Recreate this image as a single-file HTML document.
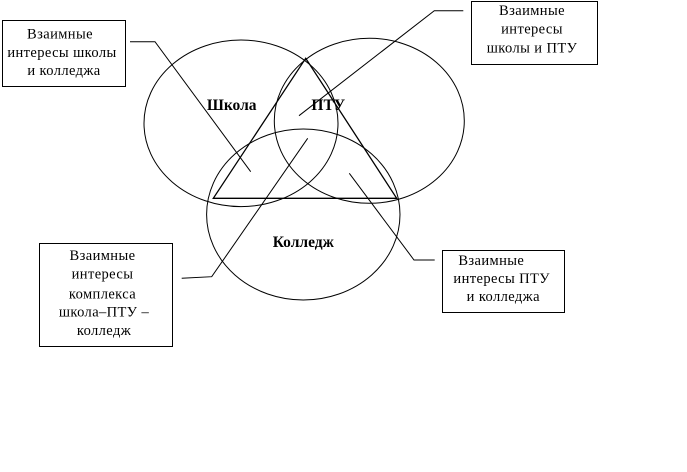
<!DOCTYPE html>
<html><head><meta charset="utf-8"><style>
html,body{margin:0;padding:0;background:#fff;}
svg{display:block;}
text{font-family:"Liberation Serif","DejaVu Serif",serif;font-size:14.5px;fill:#000;text-anchor:middle;letter-spacing:0.4px;}
.b{font-weight:bold;letter-spacing:0;font-size:15.5px;}
</style></head><body>
<svg width="687" height="472" viewBox="0 0 687 472" xmlns="http://www.w3.org/2000/svg">
<g fill="none" stroke="#000" stroke-width="1">
<ellipse cx="241" cy="123.3" rx="97" ry="83.3"/>
<ellipse cx="369.3" cy="120.8" rx="95" ry="82.5"/>
<ellipse cx="303.3" cy="214.5" rx="96.7" ry="85.5"/>
<polygon points="305.7,58.3 213.3,198.3 396.7,198.3" stroke-width="1.3"/>
<polyline points="130,41.7 155,41.7 250.7,171.7"/>
<polyline points="463.3,10.7 434.3,10.7 299,115.7"/>
<polyline points="181.7,278.3 211.7,276.7 307.7,138.3"/>
<polyline points="434.7,260 414,260 349.3,173.3"/>
<rect x="2.5" y="20.5" width="123" height="66"/>
<rect x="471.5" y="1.5" width="126" height="63"/>
<rect x="39.5" y="243.5" width="133" height="103"/>
<rect x="442.5" y="250.5" width="122" height="62"/>
</g>
<text class="b" x="231.7" y="110">Школа</text>
<text class="b" x="328.3" y="110">ПТУ</text>
<text class="b" x="303.3" y="247">Колледж</text>
<text x="60" y="38.5">Взаимные</text>
<text x="62" y="57">интересы школы</text>
<text x="64" y="75">и колледжа</text>
<text x="532" y="15">Взаимные</text>
<text x="532" y="33.3">интересы</text>
<text x="532" y="52.3">школы и ПТУ</text>
<text x="102.5" y="260">Взаимные</text>
<text x="102.5" y="278.3">интересы</text>
<text x="102.5" y="298.3">комплекса</text>
<text x="104" y="316.7">школа–ПТУ –</text>
<text x="104" y="335">колледж</text>
<text x="491.3" y="265">Взаимные</text>
<text x="501.7" y="283">интересы ПТУ</text>
<text x="503.3" y="301">и колледжа</text>
</svg>
</body></html>
